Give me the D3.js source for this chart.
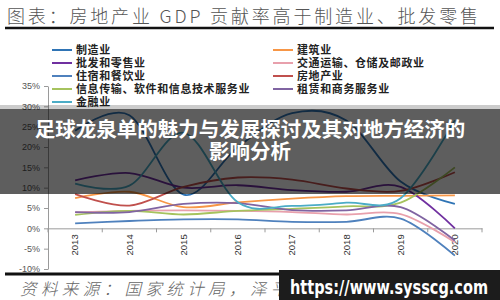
<!DOCTYPE html>
<html><head><meta charset="utf-8">
<script src="https://cdn.jsdelivr.net/npm/d3@7"></script>
<style>body{margin:0;background:#fff;}svg{display:block;font-family:"Noto Sans CJK SC","Noto Sans",sans-serif;}</style>
</head><body>
<script>
// ---- data ----
const years = ["2013","2014","2015","2016","2017","2018","2019","2020"];
const seriesNames = ["制造业","建筑业","批发和零售业","交通运输、仓储及邮政业","住宿和餐饮业","房地产业","信息传输、软件和信息技术服务业","租赁和商务服务业","金融业"];
const manufacturing = [24, 27.8, 8.3, 20, 28.3, 26.5, 11.5, 6];
const construction  = [7.4, 9.0, 5.2, 6.4, 7.3, 7.9, 8.0, 8.1];
const wholesale     = [11.8, 13.6, 10.0, 10.6, 9.4, 9.0, 10.2, 0];
const transport     = [3.9, 4.3, 4.4, 4.3, 4.0, 3.4, 3.5, -3.4];
const hospitality   = [1.2, 1.8, 2.2, 2.2, 1.6, 1.6, 2.4, -6.7];
const realEstate    = [8.4, 5.6, 10.2, 12.5, 12.0, 9.8, 9.2, 13.8];
const infoTech      = [3.3, 4.3, 3.4, 4.3, 4.8, 5.4, 6.3, 15.0];
const leasing       = [4.0, 4.0, 6.0, 6.2, 4.5, 4.4, 5.2, -3.0];
const finance       = [11.0, 10.5, 23.5, 6.4, 5.5, 6.3, 7.4, 26.6];
const yTicks = [-10, -5, 0, 5, 10, 15, 20, 25, 30, 35];
const titleText = "图表：房地产业 GDP 贡献率高于制造业、批发零售";
const sourceText = "资料来源：国家统计局，泽平宏观";
const bannerLines = ["足球龙泉单的魅力与发展探讨及其对地方经济的", "影响分析"];
const watermark = "https://www.sysscg.com";

// ---- styles ----
const seriesValues = [manufacturing, construction, wholesale, transport, hospitality, realEstate, infoTech, leasing, finance];
const seriesColors = ["#2F74B5","#F79646","#7030A0","#E8A0AC","#4F81BD","#C0504D","#A6C35E","#8064A2","#4BACC6"];
// legend layout: [column, row]
const legendPos = [[0,0],[1,0],[0,1],[1,1],[0,2],[1,2],[0,3],[1,3],[0,4]];

const W = 500, H = 300;
const svg = d3.select("body").append("svg").attr("width", W).attr("height", H);

// title
svg.append("text").attr("x", 7).attr("y", 23).attr("font-size", 18).attr("fill", "#555")
  .attr("font-weight", 300).attr("textLength", 471).attr("lengthAdjust", "spacing").text(titleText);
svg.append("line").attr("x1", 5).attr("x2", 494).attr("y1", 28).attr("y2", 28)
  .attr("stroke", "#111").attr("stroke-width", 2.5);

// scales
const x = d3.scaleBand().domain(years).range([48, 482]);
const y = d3.scaleLinear().domain([-10, 35]).range([269, 86]);

// y axis
const gy = svg.append("g").attr("transform", "translate(48,0)")
  .call(d3.axisLeft(y).tickValues(yTicks).tickSize(4).tickSizeOuter(0).tickFormat(d => d + "%"));
gy.select(".domain").attr("stroke", "#9a9a9a");
gy.selectAll(".tick line").attr("stroke", "#9a9a9a");
gy.selectAll(".tick text").attr("fill", "#555").attr("font-size", 9).attr("font-family", "Liberation Sans, Arial, sans-serif").attr("x", -8);

// x axis (labels at centers)
const gx = svg.append("g").attr("transform", `translate(0,${y(0)})`)
  .call(d3.axisBottom(x).tickSize(0).tickSizeOuter(0));
gx.select(".domain").attr("stroke", "#9a9a9a");
gx.selectAll(".tick text").attr("transform", "rotate(-90)").attr("x", -6).attr("y", 0)
  .attr("dy", "0.35em").style("text-anchor", "end").attr("fill", "#333").attr("font-size", 9.5)
  .attr("font-family", "Liberation Sans, Arial, sans-serif");
// boundary ticks
svg.append("g").selectAll("line").data(years.concat(["end"])).join("line")
  .attr("x1", (d, i) => x.range()[0] + i * x.step()).attr("x2", (d, i) => x.range()[0] + i * x.step())
  .attr("y1", y(0)).attr("y2", y(0) + 4).attr("stroke", "#9a9a9a");

// lines
const line = d3.line()
  .x((d, i) => x(years[i]) + x.bandwidth() / 2)
  .y(d => y(d))
  .curve(d3.curveCatmullRom.alpha(0));
svg.append("g").selectAll("path").data(seriesValues).join("path")
  .attr("d", d => line(d)).attr("fill", "none")
  .attr("stroke", (d, i) => seriesColors[i]).attr("stroke-width", 1.8);

// legend
const lg = svg.append("g").selectAll("g").data(seriesNames).join("g")
  .attr("transform", (d, i) => `translate(${legendPos[i][0] ? 273 : 52},${50 + legendPos[i][1] * 13})`);
lg.append("line").attr("x1", 0).attr("x2", 20).attr("stroke", (d, i) => seriesColors[i]).attr("stroke-width", 2);
lg.append("text").attr("x", 24).attr("y", 4).attr("font-size", 11).attr("font-weight", 700)
  .attr("fill", "#222").attr("letter-spacing", 0.6).text(d => d);

// bottom rule and source
svg.append("line").attr("x1", 5).attr("x2", 494).attr("y1", 274).attr("y2", 274)
  .attr("stroke", "#111").attr("stroke-width", 3);
svg.append("text").attr("x", 20).attr("y", 295).attr("font-size", 16.5).attr("font-style", "italic")
  .attr("fill", "#666").attr("font-weight", 300).attr("letter-spacing", 4.4).text(sourceText);

// overlay banner
svg.append("rect").attr("x", 0).attr("y", 105).attr("width", W).attr("height", 4).attr("fill", "#000").attr("opacity", 0.2);
svg.append("rect").attr("x", 0).attr("y", 109).attr("width", W).attr("height", 85).attr("fill", "#000").attr("opacity", 0.63);
svg.append("g").selectAll("text").data(bannerLines).join("text")
  .attr("x", 250).attr("y", (d, i) => 137 + i * 22).attr("text-anchor", "middle")
  .attr("font-size", 20.5).attr("font-weight", 700).attr("fill", "#fff").text(d => d);

// watermark
svg.append("rect").attr("x", 279).attr("y", 270).attr("width", 221).attr("height", 30).attr("fill", "#1c1c1c");
svg.append("text").attr("x", 290).attr("y", 294).attr("font-size", 19).attr("font-weight", 700)
  .attr("font-family", "DejaVu Sans, sans-serif").attr("fill", "#fff")
  .attr("textLength", 198).attr("lengthAdjust", "spacingAndGlyphs").text(watermark);
</script>
</body></html>
